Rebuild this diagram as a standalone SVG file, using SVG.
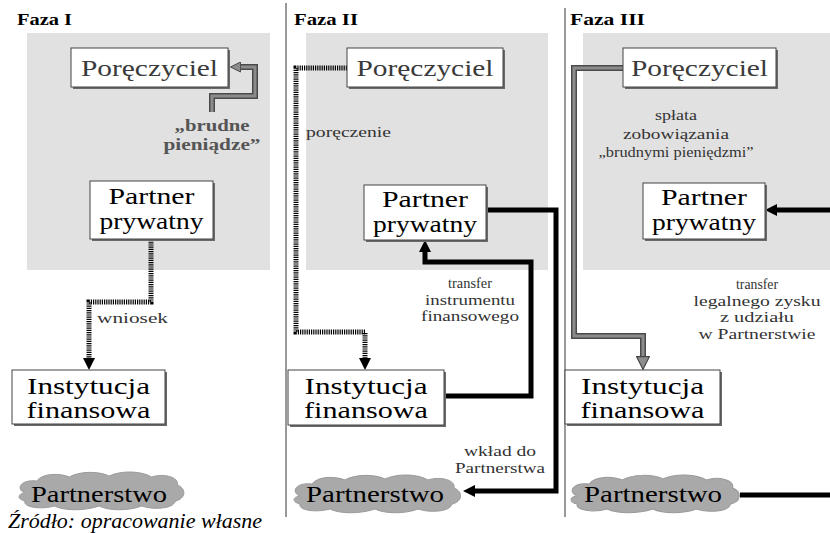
<svg xmlns="http://www.w3.org/2000/svg" width="830" height="533" viewBox="0 0 830 533" font-family="'Liberation Serif', 'DejaVu Serif', serif">
<style>
.bg{fill:#ffffff}
.panel{fill:#e1e1e1}
.div{stroke:#555;stroke-width:1.2;fill:none}
.shd{fill:#6a6a6a}
.box{fill:#ffffff;stroke:#444;stroke-width:1}
.cloud{fill:#a9a9a9;stroke:#9a9a9a;stroke-width:1}
.nt{font-family:'Liberation Serif','DejaVu Serif',serif;font-size:24px;text-anchor:middle;fill:#000}
.ng{fill:#3a3a3a}
.ph{font-family:'Liberation Serif','DejaVu Serif',serif;font-size:17px;font-weight:bold;fill:#000}
.lb{font-family:'Liberation Serif','DejaVu Serif',serif;font-size:15px;fill:#333}
.lbc{font-family:'Liberation Serif','DejaVu Serif',serif;font-size:15px;fill:#333;text-anchor:middle}
.lbb{font-family:'Liberation Serif','DejaVu Serif',serif;font-size:16px;font-weight:bold;fill:#555;text-anchor:middle}
.foot{font-family:'Liberation Serif','DejaVu Serif',serif;font-size:20px;font-style:italic;fill:#000}
.dot{fill:none;stroke:#000;stroke-width:5;stroke-dasharray:1.2 1}
.blk{fill:none;stroke:#000;stroke-width:5}
.gry{fill:none;stroke:#4a4a4a;stroke-width:6}
.gryi{fill:none;stroke:#8c8c8c;stroke-width:3}
</style>
<defs>
<marker id="ahBlack" viewBox="0 0 12 12" refX="0" refY="6" markerWidth="12" markerHeight="12" markerUnits="userSpaceOnUse" orient="auto"><path d="M0,0 L12,6 L0,12 z" fill="#000"/></marker>
<marker id="ahGray" viewBox="0 0 12 12" refX="0" refY="6" markerWidth="14" markerHeight="14" markerUnits="userSpaceOnUse" orient="auto"><path d="M0.5,0.5 L11.5,6 L0.5,11.5 z" fill="#8c8c8c" stroke="#444" stroke-width="1"/></marker>
<marker id="ahGraySm" viewBox="0 0 12 12" refX="0" refY="6" markerWidth="11" markerHeight="11" markerUnits="userSpaceOnUse" orient="auto"><path d="M0.5,0.5 L11.5,6 L0.5,11.5 z" fill="#8c8c8c" stroke="#444" stroke-width="1"/></marker>
<path id="cloudShape" d="M10,22 C0,18 6,8 22,10 C28,2 45,2 55,6 C65,0 85,0 95,5 C108,-1 128,0 138,6 C150,2 166,6 164,14 C174,18 172,28 162,30 C160,38 140,39 128,35 C115,40 95,40 85,35 C70,40 50,40 40,35 C25,39 8,36 10,30 C2,28 2,23 10,22 Z"/>
</defs>
<rect class="bg" x="0" y="0" width="830" height="533"/>

<g id="panels">
<rect class="panel" x="27" y="33" width="243" height="237"/>
<rect class="panel" x="306" y="33" width="242" height="237"/>
<rect class="panel" x="583" y="33" width="247" height="237"/>
<line class="div" x1="286" y1="3" x2="286" y2="517"/>
<line class="div" x1="565" y1="8" x2="565" y2="517"/>
<text class="ph" x="17" y="25" textLength="55" lengthAdjust="spacingAndGlyphs">Faza I</text>
<text class="ph" x="294" y="25" textLength="64" lengthAdjust="spacingAndGlyphs">Faza II</text>
<text class="ph" x="570" y="25" textLength="75" lengthAdjust="spacingAndGlyphs">Faza III</text>
</g>

<g id="connectors">
<path class="gry" d="M212,112 V96 H255 V67 H241"/>
<path class="gryi" d="M212,112 V96 H255 V67 H241" marker-end="url(#ahGraySm)"/>
<path class="dot" d="M151,240 V302 H89 V358" marker-end="url(#ahBlack)"/>
<path class="dot" d="M347,68 H296 V332 H365 V358" marker-end="url(#ahBlack)"/>
<path class="blk" d="M486,210 H556 V491 H475" marker-end="url(#ahBlack)"/>
<path class="blk" d="M444,396 H531 V262 H425 V252" marker-end="url(#ahBlack)"/>
<path class="gry" d="M623,68 H574 V336 H643 V356"/>
<path class="gryi" d="M623,68 H574 V336 H643 V356" marker-end="url(#ahGray)"/>
<path class="blk" d="M830,210 H777" marker-end="url(#ahBlack)"/>
<path class="blk" d="M740,495 H830"/>
</g>

<g id="labels">
<text class="lbb" x="212" y="131" textLength="75" lengthAdjust="spacingAndGlyphs">„brudne</text>
<text class="lbb" x="212" y="150" textLength="97" lengthAdjust="spacingAndGlyphs">pieniądze”</text>
<text class="lb" x="97" y="323" fill="#111" textLength="71" lengthAdjust="spacingAndGlyphs">wniosek</text>
<text class="lb" x="306" y="137" textLength="85" lengthAdjust="spacingAndGlyphs">poręczenie</text>
<text class="lbc" x="470" y="288" textLength="44" lengthAdjust="spacingAndGlyphs">transfer</text>
<text class="lbc" x="470" y="305" textLength="90" lengthAdjust="spacingAndGlyphs">instrumentu</text>
<text class="lbc" x="470" y="321" textLength="98" lengthAdjust="spacingAndGlyphs">finansowego</text>
<text class="lbc" x="500" y="456" textLength="72" lengthAdjust="spacingAndGlyphs">wkład do</text>
<text class="lbc" x="500" y="473" textLength="90" lengthAdjust="spacingAndGlyphs">Partnerstwa</text>
<text class="lbc" x="676" y="120" textLength="42" lengthAdjust="spacingAndGlyphs">spłata</text>
<text class="lbc" x="676" y="139" textLength="106" lengthAdjust="spacingAndGlyphs">zobowiązania</text>
<text class="lbc" x="676" y="157" textLength="155" lengthAdjust="spacingAndGlyphs">„brudnymi pieniędzmi”</text>
<text class="lbc" x="757" y="289" textLength="42" lengthAdjust="spacingAndGlyphs">transfer</text>
<text class="lbc" x="757" y="306" textLength="127" lengthAdjust="spacingAndGlyphs">legalnego zysku</text>
<text class="lbc" x="757" y="322" textLength="74" lengthAdjust="spacingAndGlyphs">z udziału</text>
<text class="lbc" x="757" y="339" textLength="117" lengthAdjust="spacingAndGlyphs">w Partnerstwie</text>
</g>

<g id="f1-poreczyciel">
<rect class="shd" x="73" y="50" width="157" height="39"/>
<rect class="box" x="71" y="48" width="157" height="39"/>
<text class="nt ng" x="149.5" y="76" textLength="137" lengthAdjust="spacingAndGlyphs">Poręczyciel</text>
</g>
<g id="f1-partner">
<rect class="shd" x="92" y="183" width="123" height="58"/>
<rect class="box" x="90" y="181" width="123" height="58"/>
<text class="nt" x="151.5" y="204" textLength="86" lengthAdjust="spacingAndGlyphs">Partner</text>
<text class="nt" x="151.5" y="229" textLength="104" lengthAdjust="spacingAndGlyphs">prywatny</text>
</g>
<g id="f1-instytucja">
<rect class="shd" x="14" y="372" width="153" height="54"/>
<rect class="box" x="12" y="370" width="153" height="54"/>
<text class="nt" x="88.5" y="394" textLength="123" lengthAdjust="spacingAndGlyphs">Instytucja</text>
<text class="nt" x="88.5" y="418" textLength="124" lengthAdjust="spacingAndGlyphs">finansowa</text>
</g>
<g id="f1-partnerstwo">
<use href="#cloudShape" class="cloud" transform="translate(15,471) scale(0.99,1)"/>
<text class="nt" x="99" y="502" textLength="136" lengthAdjust="spacingAndGlyphs">Partnerstwo</text>
</g>

<g id="f2-poreczyciel">
<rect class="shd" x="349" y="50" width="156" height="39"/>
<rect class="box" x="347" y="48" width="156" height="39"/>
<text class="nt ng" x="425" y="76" textLength="137" lengthAdjust="spacingAndGlyphs">Poręczyciel</text>
</g>
<g id="f2-partner">
<rect class="shd" x="366" y="187" width="122" height="55"/>
<rect class="box" x="364" y="185" width="122" height="55"/>
<text class="nt" x="425" y="207" textLength="86" lengthAdjust="spacingAndGlyphs">Partner</text>
<text class="nt" x="425" y="232" textLength="104" lengthAdjust="spacingAndGlyphs">prywatny</text>
</g>
<g id="f2-instytucja">
<rect class="shd" x="290" y="372" width="156" height="55"/>
<rect class="box" x="288" y="370" width="156" height="55"/>
<text class="nt" x="366" y="394" textLength="123" lengthAdjust="spacingAndGlyphs">Instytucja</text>
<text class="nt" x="366" y="418" textLength="124" lengthAdjust="spacingAndGlyphs">finansowa</text>
</g>
<g id="f2-partnerstwo">
<use href="#cloudShape" class="cloud" transform="translate(290,474)"/>
<text class="nt" x="375" y="502" textLength="138" lengthAdjust="spacingAndGlyphs">Partnerstwo</text>
</g>

<g id="f3-poreczyciel">
<rect class="shd" x="625" y="50" width="153" height="39"/>
<rect class="box" x="623" y="48" width="153" height="39"/>
<text class="nt ng" x="699.5" y="76" textLength="137" lengthAdjust="spacingAndGlyphs">Poręczyciel</text>
</g>
<g id="f3-partner">
<rect class="shd" x="645" y="185" width="122" height="56"/>
<rect class="box" x="643" y="183" width="122" height="56"/>
<text class="nt" x="704" y="205" textLength="86" lengthAdjust="spacingAndGlyphs">Partner</text>
<text class="nt" x="704" y="230" textLength="104" lengthAdjust="spacingAndGlyphs">prywatny</text>
</g>
<g id="f3-instytucja">
<rect class="shd" x="567" y="372" width="155" height="54"/>
<rect class="box" x="565" y="370" width="155" height="54"/>
<text class="nt" x="642.5" y="394" textLength="123" lengthAdjust="spacingAndGlyphs">Instytucja</text>
<text class="nt" x="642.5" y="418" textLength="124" lengthAdjust="spacingAndGlyphs">finansowa</text>
</g>
<g id="f3-partnerstwo">
<use href="#cloudShape" class="cloud" transform="translate(567,474) scale(1.01,1)"/>
<text class="nt" x="653" y="502" textLength="138" lengthAdjust="spacingAndGlyphs">Partnerstwo</text>
</g>

<text class="foot" x="8" y="528" textLength="254" lengthAdjust="spacingAndGlyphs">Źródło: opracowanie własne</text>
</svg>
